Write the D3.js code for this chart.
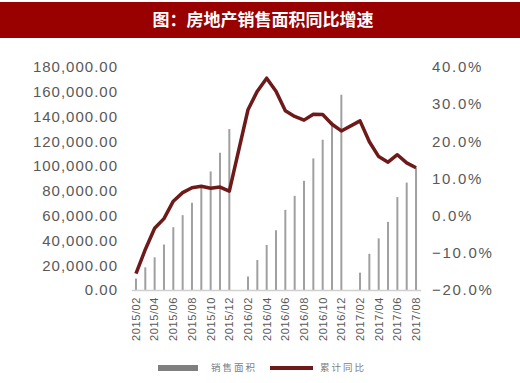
<!DOCTYPE html>
<html><head><meta charset="utf-8">
<script src="https://cdn.jsdelivr.net/npm/d3@7/dist/d3.min.js"></script>
<style>body{margin:0;background:#fff;}svg{display:block;}</style>
</head><body>
<svg id="c" width="520" height="383"></svg>
<script>
const categories = ["2015/02","2015/03","2015/04","2015/05","2015/06","2015/07","2015/08","2015/09","2015/10","2015/11","2015/12",
"2016/01","2016/02","2016/03","2016/04","2016/05","2016/06","2016/07","2016/08","2016/09","2016/10","2016/11","2016/12",
"2017/01","2017/02","2017/03","2017/04","2017/05","2017/06","2017/07","2017/08"];
const salesArea = [9200,18300,26400,36700,50700,60400,70400,84000,95700,110800,129900,
null,10900,24200,36400,48200,64700,76000,88100,106200,121300,135800,157600,
null,14000,29200,41700,55000,75000,86700,98900];
const yoyGrowth = [-15.6,-9.1,-3.4,-0.8,3.9,6.2,7.5,7.9,7.4,7.7,6.6,
null,28.5,33.5,37.0,33.5,28.2,26.7,25.7,27.3,27.2,24.6,22.8,
null,25.5,19.9,15.9,14.4,16.4,14.2,12.9];
const leftTicks = [0,20000,40000,60000,80000,100000,120000,140000,160000,180000];
const rightTicks = [-20,-10,0,10,20,30,40];
const labelCats = categories.filter((d,i)=>i%2===0);

const svg = d3.select("#c");
// title bar
svg.append("rect").attr("x",0).attr("y",2).attr("width",520).attr("height",36).attr("fill","#990000");
svg.append("text").attr("x",263).attr("y",20).attr("dy","0.36em").attr("text-anchor","middle")
  .attr("fill","#fff").attr("font-family","'Noto Sans CJK SC'").attr("font-weight","bold").attr("font-size",17)
  .text("图：房地产销售面积同比增速");

const x = d3.scaleBand().domain(categories).range([131.3,420.7]);
const yL = d3.scaleLinear().domain([0,180000]).range([290,67]);
const yR = d3.scaleLinear().domain([-20,40]).range([290,67]);
const font = "'Liberation Sans', Arial, sans-serif";

// left axis
const axL = d3.axisLeft(yL).tickValues(leftTicks).tickSize(0).tickPadding(0).tickFormat(d3.format(",.2f"));
const gL = svg.append("g").attr("transform","translate(118,0)").call(axL);
gL.select(".domain").remove();
gL.selectAll("text").attr("fill","#595959").attr("font-family",font).attr("font-size",15).style("letter-spacing","1px");

// right axis
const axR = d3.axisRight(yR).tickValues(rightTicks).tickSize(0).tickPadding(0).tickFormat(d=>d3.format(".1f")(d)+"%");
const gR = svg.append("g").attr("transform","translate(432,0)").call(axR);
gR.select(".domain").remove();
gR.selectAll("text").attr("fill","#595959").attr("font-family",font).attr("font-size",15).style("letter-spacing","1.7px");

// bars
svg.append("g").selectAll("rect").data(categories.map((c,i)=>({c,v:salesArea[i]})).filter(d=>d.v!=null))
  .join("rect")
  .attr("x",d=>x(d.c)+x.bandwidth()/2-1).attr("width",2)
  .attr("y",d=>yL(d.v)).attr("height",d=>yL(0)-yL(d.v)).attr("fill","#a0a0a0");

// x axis
const axB = d3.axisBottom(x).tickValues(labelCats).tickSize(0).tickPadding(0);
const gB = svg.append("g").attr("transform","translate(0,290)").call(axB);
gB.select(".domain").attr("stroke","#d0d0d0").attr("stroke-width",1.5);
gB.selectAll("text").attr("fill","#595959").attr("font-family",font).attr("font-size",11)
  .style("letter-spacing","0.6px")
  .attr("text-anchor","end").attr("dy","0.35em").attr("transform","translate(0,7) rotate(-90)").attr("x",0).attr("y",0);

// line
const pts = categories.map((c,i)=>({c,v:yoyGrowth[i]})).filter(d=>d.v!=null);
svg.append("path").datum(pts).attr("fill","none").attr("stroke","#6e1a1a").attr("stroke-width",3.5)
  .attr("stroke-linejoin","round")
  .attr("d",d3.line().x(d=>x(d.c)+x.bandwidth()/2).y(d=>yR(d.v)));

// legend
const lg = svg.append("g");
lg.append("rect").attr("x",158).attr("y",365).attr("width",40).attr("height",6).attr("fill","#7f7f7f");
lg.append("text").attr("x",211).attr("y",368).attr("dy","0.36em").attr("fill","#808080")
  .attr("font-family","'Noto Sans CJK SC'").attr("font-size",9.5).style("letter-spacing","2px").text("销售面积");
lg.append("rect").attr("x",270).attr("y",366).attr("width",43).attr("height",4).attr("fill","#6e1a1a");
lg.append("text").attr("x",320).attr("y",368).attr("dy","0.36em").attr("fill","#808080")
  .attr("font-family","'Noto Sans CJK SC'").attr("font-size",9.5).style("letter-spacing","2px").text("累计同比");
</script>
</body></html>
